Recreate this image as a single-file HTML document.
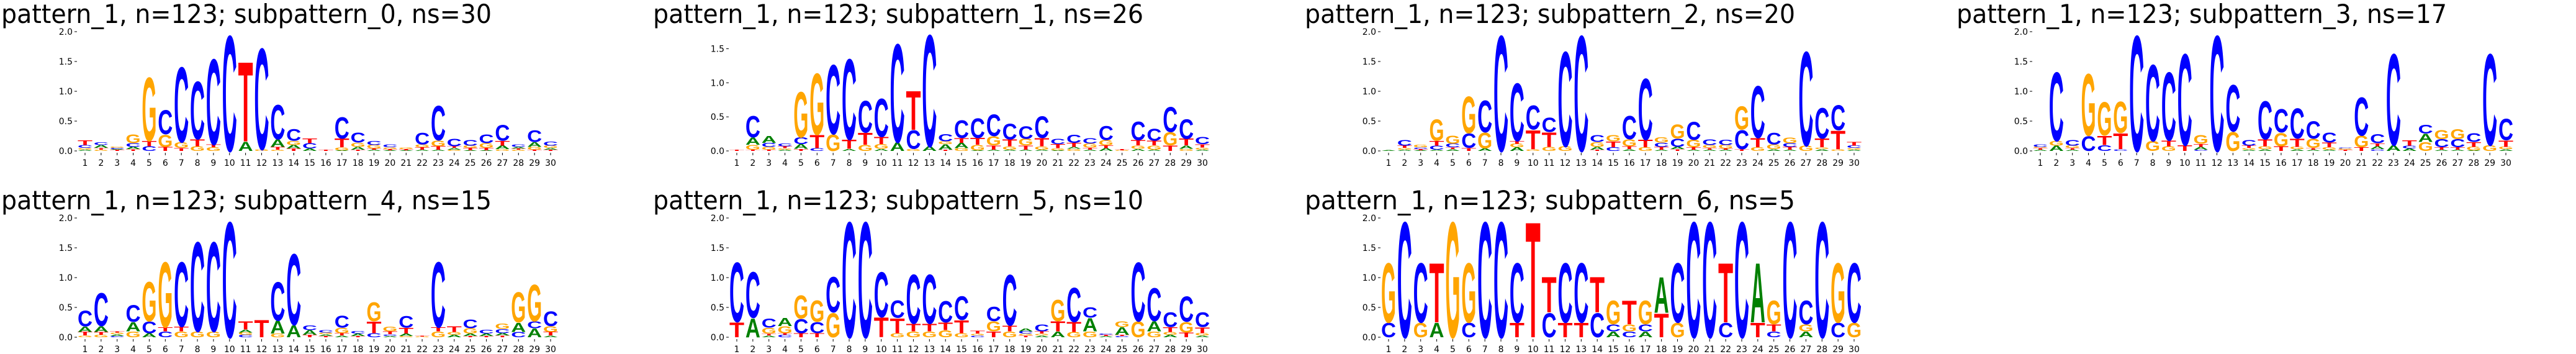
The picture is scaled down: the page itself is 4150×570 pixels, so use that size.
<!DOCTYPE html>
<html>
<head>
<meta charset="utf-8">
<style>
html,body{margin:0;padding:0;background:#fff;width:4150px;height:570px;overflow:hidden;}
svg{display:block;}
</style>
</head>
<body>
<svg id="chart" xmlns="http://www.w3.org/2000/svg" width="4150" height="570" viewBox="0 0 4150 570">
<rect x="0" y="0" width="4150" height="570" fill="#fff"/>
</svg>
<script>
const titles = [
 "pattern_1, n=123; subpattern_0, ns=30",
 "pattern_1, n=123; subpattern_1, ns=26",
 "pattern_1, n=123; subpattern_2, ns=20",
 "pattern_1, n=123; subpattern_3, ns=17",
 "pattern_1, n=123; subpattern_4, ns=15",
 "pattern_1, n=123; subpattern_5, ns=10",
 "pattern_1, n=123; subpattern_6, ns=5"
];
const positions = [1,2,3,4,5,6,7,8,9,10,11,12,13,14,15,16,17,18,19,20,21,22,23,24,25,26,27,28,29,30];
const yTicks = [0,0.5,1.0,1.5,2.0];
const yTicksSub1 = [0,0.5,1.0,1.5];
const yMaxes = [2,1.75,2,2,2,2,2];
// stacks bottom -> top, "Letter+bits"
const sub0 = ["A.02 G.03 C.05 T.08","G.02 T.03 A.05 C.05","T.02 A.01 C.02 G.02","T.03 A.04 C.06 G.15","C.08 T.09 G1.1","T.07 G.21 C.42","T.05 G.1 C1.3","G.08 T.12 C1.0","G.06 T.05 C1.48","C2.0","A.16 T1.38","G.03 C1.75","G.02 T.05 A.13 C.6","T.04 A.06 G.07 C.2","A.04 C.09 T.08","T.02","A.01 G.05 T.15 C.37","T.02 A.05 G.07 C.17","A.02 T.02 G.06 C.07","A.01 T.02 G.03 C.05","A.01 T.02 G.03","A.02 T.04 G.05 C.2","A.02 T.06 G.1 C.6","G.02 A.03 T.03 C.13","A.01 T.04 G.04 C.1","A.01 T.04 G.08 C.15","G.03 A.06 T.08 C.27","G.02 T.02 A.03 C.04","T.02 G.05 A.08 C.2","T.02 A.03 G.04 C.07"];
const sub1 = ["T.02","T.02 G.07 A.11 C.32","T.02 G.04 C.06 A.1","A.02 G.02 T.03 C.04","T.03 A.07 C.1 G.69","C.04 T.2 G.93","G.25 C1.05","A.03 T.14 C1.22","G.09 T.18 C.48","A.03 G.07 T.11 C.58","A.13 C1.49","G.03 C.28 T.59","A.07 C1.69","T.02 A.08 G.04 C.11","G.04 A.08 T.07 C.27","A.01 G.08 T.1 C.3","A.02 T.06 G.14 C.33","A.02 G.05 T.1 C.24","A.02 T.06 G.1 C.19","A.02 G.05 T.12 C.33","A.01 G.03 T.06 C.08","G.03 A.03 T.06 C.12","A.02 T.03 G.06 C.08","A.04 T.04 G.08 C.21","G.01 T.02","A.03 G.05 T.08 C.28","A.02 G.06 T.07 C.18","T.08 G.2 C.38","G.03 A.05 T.1 C.3","A.02 G.03 T.05 C.11"];
const sub2 = ["A.01","A.02 G.03 T.04 C.1","A.01 T.02 C.03 G.04","A.02 C.07 T.08 G.37","A.03 T.03 C.06 G.14","T.05 C.25 G.63","A.04 G.27 C.55","C2.0","A.06 G.06 T.05 C1.0","G.03 T.33 C.42","G.07 T.25 C.25","G.08 C1.64","C2.0","T.02 A.05 G.08 C.12","C.06 T.1 G.11","A.03 T.05 G.12 C.4","G.06 T.13 C1.06","A.02 T.05 C.07 G.09","T.03 A.04 C.14 G.24","A.02 T.04 G.13 C.31","A.02 T.03 G.05 C.1","A.02 T.02 G.06 C.09","T.03 C.33 G.4","G.06 T.16 C.9","A.03 G.08 C.2","A.02 T.05 C.06 G.1","G.09 C1.63","A.03 G.03 T.15 C.53","G.03 T.32 C.43","A.02 G.03 C.04 T.06"];
const sub3 = ["A.02 T.03 G.02 C.04","A.09 G.08 C1.19","A.02 T.03 G.04 C.1","C.26 G1.07","C.1 T.16 G.58","C.03 T.27 G.54","C2.0","G.17 C1.32","G.08 T.1 C1.18","T.1 C1.58","C.02 A.05 T.05 G.15","C2.0","G.33 C.81","A.02 G.03 T.04 C.1","A.03 G.05 T.12 C.66","T.08 G.23 C.4","A.03 G.04 T.14 C.52","A.02 T.03 G.16 C.3","A.02 G.04 T.08 C.17","T.02 G.02 C.01","T.06 G.2 C.66","C.03 A.05 T.05 C.16","A.1 C1.58","A.04 C.05 T.09","G.15 A.14 C.15","A.02 T.04 C.14 G.16","A.02 T.04 C.14 G.17","A.01 G.06 T.08 C.15","G.1 C1.58","A.03 G.04 T.11 C.37"];
const sub4 = ["G.03 T.06 A.09 C.27","G.04 T.05 A.1 C.57","C.02 A.03 G.03 T.02","G.1 A.16 C.29","A.07 C.2 G.68","C.1 T.07 G1.13","G.1 T.08 C1.12","G.1 C1.55","G.1 C1.55","C2.0","C.04 G.04 A.05 T.14","T.3","G.06 A.22 C.67","A.21 C1.23","T.04 A.08 C.08","T.02 A.03 G.03 C.04","A.03 T.04 G.09 C.21","T.02 A.04 C.04","C.07 T.2 G.33","A.02 C.03 T.05 G.08","G.02 A.04 T.1 C.2","G.01 T.01","G.1 T.07 C1.13","A.04 G.05 T.1","T.02 A.04 G.09 C.15","T.02 A.04 C.06","T.03 A.04 C.07 G.09","C.09 A.16 G.52","A.15 C.12 G.63","A.03 T.06 G.1 C.26"];
const sub5 = ["T.26 C1.03","A.33 C.79","A.03 T.03 G.1 C.16","C.04 T.03 G.12 A.14","T.07 C.24 G.4","T.07 C.19 G.37","G.42 C.61","C2.0","C2.0","T.34 C.78","G.07 T.26 C.3","G.1 T.13 C.85","G.1 T.13 C.85","G.12 T.13 C.37","G.07 T.22 C.41","C.03 G.03 T.05","T.1 G.17 C.25","G.1 T.1 C.88","T.03 G.03 C.04 A.05","A.03 G.03 T.04 C.12","A.1 T.17 G.37","G.09 T.17 C.59","G.1 A.23 C.18","A.02 T.02 C.02","C.02 T.02 A.13 G.1","G.27 C1.02","G.1 A.17 C.57","A.04 G.05 T.08 C.26","T.08 G.18 C.44","A.03 G.04 T.1 C.26"];
const sub6 = ["C.25 G1.03","C2.0","G.25 C1.03","A.25 T1.03","G2.0","C.25 G1.03","C2.0","C2.0","T.25 C1.03","T2.0","C.42 T.61","T.25 C1.03","T.25 C1.03","C.42 T.61","A.1 C.12 G.41","C.1 G.12 T.41","A.1 C.12 G.41","T.41 A.62","G.25 C1.03","C2.0","C2.0","C.25 T1.03","C2.0","T.25 A1.03","C.1 T.12 G.41","C2.0","A.1 G.12 C.41","C2.0","C.25 G1.03","G.25 C1.03"];
const allStacks = [sub0,sub1,sub2,sub3,sub4,sub5,sub6];

const NS = "http://www.w3.org/2000/svg";
const svg = document.getElementById("chart");
const colors = {A:"#008000",C:"#0000ff",G:"#ffa500",T:"#ff0000"};
const panelX = [137,1187,2237,3287,137,1187,2237];
const rowY0 = [243,243,243,243,543,543,543];
const plotH = 192;
const step = (887-137)/29;

function mk(tag, attrs){const e=document.createElementNS(NS,tag);for(const k in attrs)e.setAttribute(k,attrs[k]);return e;}

allStacks.forEach(function(stacks,p){
  const g = mk("g",{});
  
  
  svg.appendChild(g);
  const x1 = panelX[p], y0 = rowY0[p], ymax = yMaxes[p];
  const xs = function(i){return x1 + i*step;};
  const ys = function(v){return y0 - v/ymax*plotH;};
  const t = mk("text",{x:x1-135, y:y0-206, "font-family":"DejaVu Sans, Liberation Sans, sans-serif","font-size":"42", fill:"#000", textLength:"790", lengthAdjust:"spacingAndGlyphs"});
  t.textContent = titles[p];
  
  
  g.appendChild(t);
  const ticks = (p===1)? yTicksSub1 : yTicks;
  ticks.forEach(function(v){
    const y = ys(v);
    const tm = mk("line",{x1:x1-17,x2:x1-13,y1:y,y2:y,stroke:"#000","stroke-width":"1"});
    
    
    g.appendChild(tm);
    const tl = mk("text",{x:x1-20,y:y+5,"text-anchor":"end","font-family":"DejaVu Sans, Liberation Sans, sans-serif","font-size":"14",fill:"#000"});
    tl.textContent = v.toFixed(1);
    
    
    g.appendChild(tl);
  });
  positions.forEach(function(n,i){
    const x = xs(i);
    const tm = mk("line",{x1:x,x2:x,y1:y0+3,y2:y0+7,stroke:"#000","stroke-width":"1"});
    
    
    g.appendChild(tm);
    const tl = mk("text",{x:x,y:y0+24,"text-anchor":"middle","font-family":"DejaVu Sans, Liberation Sans, sans-serif","font-size":"14",fill:"#000"});
    tl.textContent = String(n);
    
    
    g.appendChild(tl);
  });
  const w = step*0.93;
  stacks.forEach(function(s,i){
    let cum = 0;
    s.split(" ").forEach(function(tok){
      const L = tok[0], v = parseFloat(tok.slice(1));
      if(!(v>0)) return;
      const yb = ys(cum), yt = ys(cum+v), h = yb-yt;
      cum += v;
      if(h < 0.5) return;
      const cx = xs(i)-w/2;
      const txt = mk("text",{x:"0",y:"0","font-family":"Liberation Sans, sans-serif","font-weight":"bold","font-size":"100",fill:colors[L],textLength:"70",lengthAdjust:"spacingAndGlyphs",
        transform:"translate("+cx.toFixed(2)+","+yb.toFixed(2)+") scale("+(w/70).toFixed(4)+","+(h/72).toFixed(4)+")"});
      txt.textContent = L;
      
      
      g.appendChild(txt);
    });
  });
});
</script>
</body>
</html>
